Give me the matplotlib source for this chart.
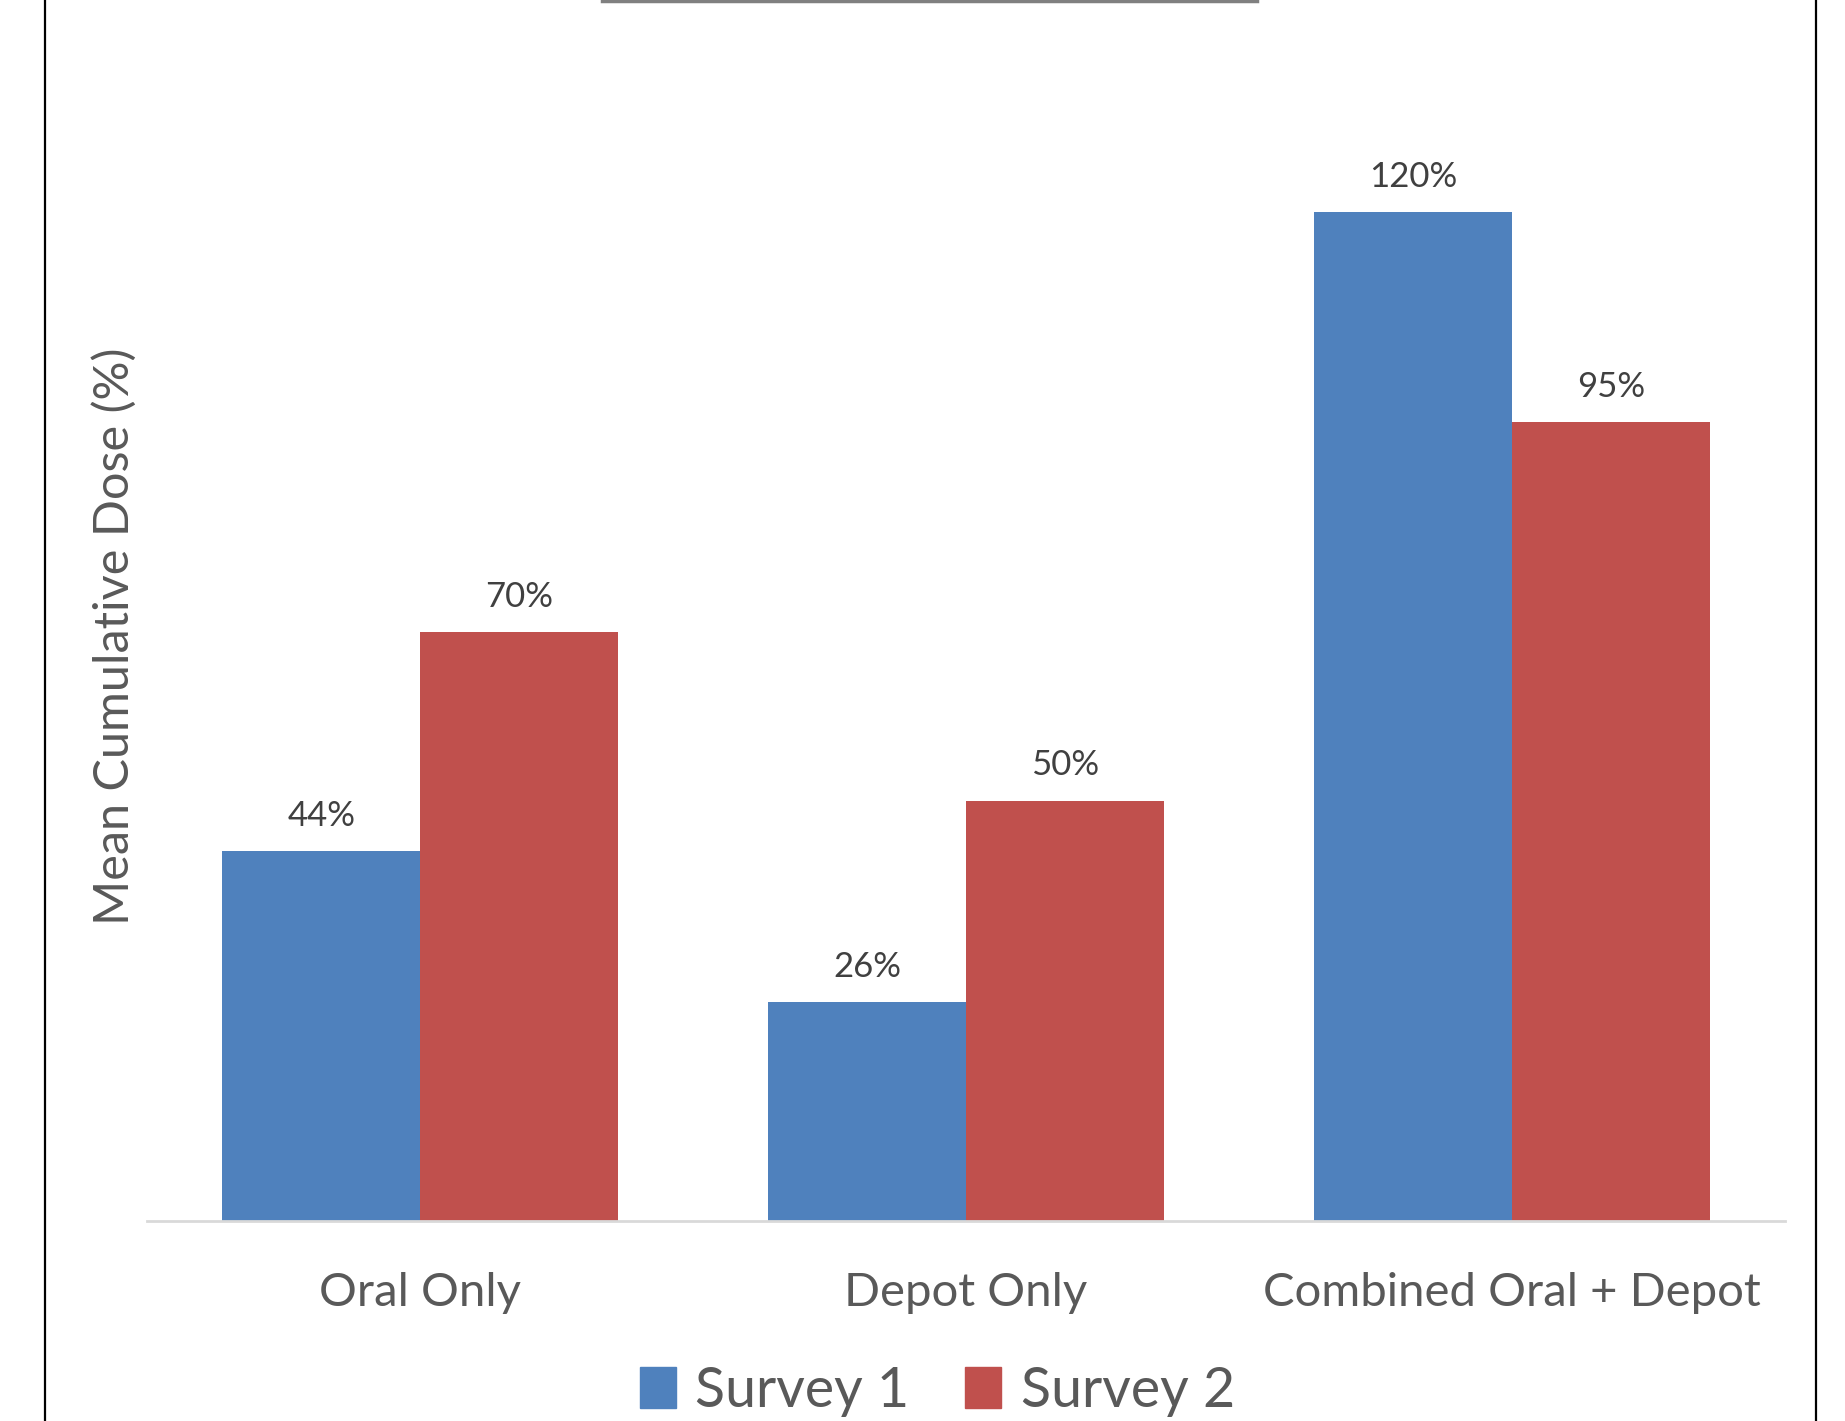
import numpy as np
import matplotlib
matplotlib.use('Agg')
import matplotlib.pyplot as plt
from matplotlib.lines import Line2D
from matplotlib.patches import Patch

# 数据
categories = ['Oral Only', 'Depot Only', 'Combined Oral + Depot']
survey1 = [44, 26, 120]
survey2 = [70, 50, 95]
series_names = ['Survey 1', 'Survey 2']

blue = '#4F81BD'
red = '#C0504D'
text_color = '#595959'

plt.rcParams['font.family'] = ['Lato', 'DejaVu Sans']

fig = plt.figure(figsize=(18.45, 14.21), dpi=100)
ax = fig.add_axes([0.0797, 0.1407, 0.8878, 0.7693])

x = np.arange(len(categories))
w = 0.362
b1 = ax.bar(x - w / 2, survey1, w, color=blue, label=series_names[0])
b2 = ax.bar(x + w / 2, survey2, w, color=red, label=series_names[1])

for bars, vals in ((b1, survey1), (b2, survey2)):
    ax.bar_label(bars, labels=[f'{v}%' for v in vals], padding=14,
                 fontsize=25, color='#404040')

ax.set_xlim(-0.5, 2.5)
ax.set_ylim(0, 130)
ax.set_xticks(x)
ax.set_xticklabels(categories, fontsize=34, color=text_color)
ax.tick_params(axis='x', length=0, pad=37)
ax.set_yticks([])
for s in ['top', 'right', 'left']:
    ax.spines[s].set_visible(False)
ax.spines['bottom'].set_color('#D9D9D9')
ax.spines['bottom'].set_linewidth(2)

fig.text(0.062, 0.5525, 'Mean Cumulative Dose (%)', rotation=90,
         fontsize=35, color=text_color, ha='center', va='center')

handles = [Patch(color=blue), Patch(color=red)]
fig.legend(handles, series_names, loc='center', bbox_to_anchor=(0.508, 0.021),
           ncol=2, frameon=False, fontsize=40, labelcolor=text_color,
           handlelength=0.65, handleheight=0.75, handletextpad=0.35, columnspacing=1.0)

# 外框线和被截断的标题下划线
fig.add_artist(Line2D([45 / 1845, 45 / 1845], [0, 1], color='black', lw=1.6))
fig.add_artist(Line2D([1816 / 1845, 1816 / 1845], [0, 1], color='black', lw=1.6))
fig.add_artist(Line2D([602 / 1845, 1257 / 1845], [0.999, 0.999], color='#808080', lw=2.5))

fig.savefig('out.png', dpi=100, facecolor='white')
